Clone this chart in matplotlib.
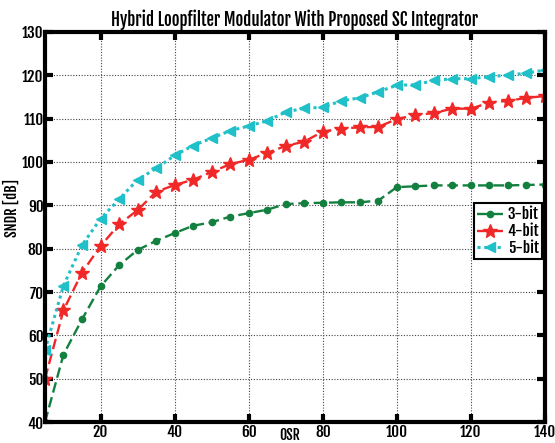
import matplotlib
matplotlib.use("Agg")
import matplotlib.pyplot as plt

osr = [5, 10, 15, 20, 25, 30, 35, 40, 45, 50, 55, 60, 65, 70, 75, 80, 85, 90,
       95, 100, 105, 110, 115, 120, 125, 130, 135, 140]
sndr_3bit = [40, 55.6, 63.7, 71.3, 76.2, 79.7, 81.8, 83.6, 85.3, 86.1, 87.4, 88.2,
             89.0, 90.3, 90.5, 90.6, 90.7, 90.7, 91.1, 94.2, 94.4, 94.6, 94.6, 94.6,
             94.6, 94.6, 94.7, 94.8]
sndr_4bit = [50, 65.8, 74.5, 80.6, 85.6, 88.9, 93.1, 94.7, 95.9, 97.7, 99.5, 100.5,
             102.1, 103.7, 104.7, 107.0, 107.7, 108.0, 108.1, 109.9, 110.8, 111.3,
             112.3, 112.3, 113.7, 114.1, 114.8, 115.2]
sndr_5bit = [56.6, 71.5, 80.8, 86.9, 91.4, 95.9, 98.5, 101.5, 103.8, 105.5, 107.2,
             108.3, 109.5, 111.5, 112.4, 112.6, 114.1, 114.8, 116.2, 117.7, 117.8,
             118.8, 119.2, 119.2, 119.7, 120.0, 120.5, 121.2]
labels = ["3-bit", "4-bit", "5-bit"]
xticks = [20, 40, 60, 80, 100, 120, 140]
yticks = [40, 50, 60, 70, 80, 90, 100, 110, 120, 130]

FONT = ["Fjalla One", "Oswald", "Roboto Condensed", "DejaVu Sans"]
plt.rcParams["font.family"] = FONT

fig = plt.figure(figsize=(5.55, 4.43), dpi=100)
ax = fig.add_axes([0.081, 0.047, 0.901, 0.881])

ax.plot(osr, sndr_3bit, color="#138040", linestyle=(0, (4.5, 2)), linewidth=1.7,
        marker="o", markersize=4.5, label=labels[0])
ax.plot(osr, sndr_4bit, color="#f02828", linestyle=(0, (4.5, 2)), linewidth=1.7,
        marker="*", markersize=10, label=labels[1])
ax.plot(osr, sndr_5bit, color="#20c0c8", linestyle=(0, (1, 1.2)), linewidth=2.2,
        marker="<", markersize=6.5, label=labels[2])

ax.set_xlim(5, 140)
ax.set_ylim(40, 130)
ax.set_xticks(xticks)
ax.set_yticks(yticks)
ax.grid(True, color="#444444", linestyle=(0, (1, 1.5)), linewidth=0.8)
for s in ax.spines.values():
    s.set_linewidth(3)
ax.tick_params(direction="in", length=6, width=3, top=True, right=True,
               labelsize=11, pad=1)

ax.set_title("Hybrid Loopfilter Modulator With Proposed SC Integrator",
             fontsize=12.2, pad=4)
ax.set_xlabel("OSR", fontsize=10)
ax.xaxis.set_label_coords(0.49, -0.012)
ax.set_ylabel("SNDR [dB]", fontsize=10.5)
ax.yaxis.set_label_coords(-0.05, 0.55)

leg = ax.legend(loc="center right", bbox_to_anchor=(0.998, 0.49),
                fontsize=11, handlelength=1.7, handletextpad=0.3,
                borderpad=0.2, labelspacing=0.05, fancybox=False,
                framealpha=1, edgecolor="black", borderaxespad=0.1)
leg.get_frame().set_linewidth(1.5)

fig.savefig("out.png", dpi=100)
